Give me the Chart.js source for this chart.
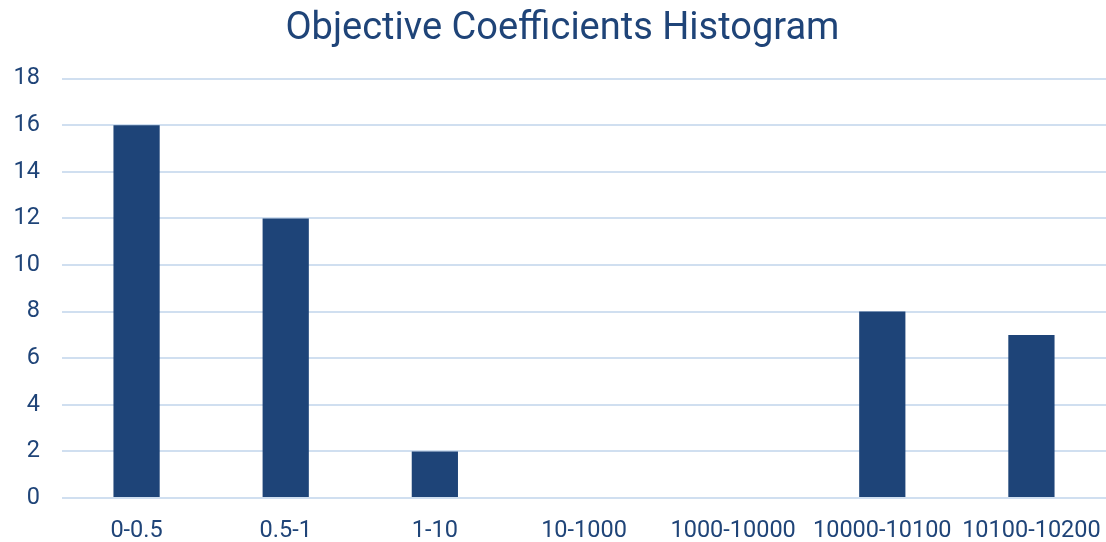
<!DOCTYPE html>
<html>
<head>
<meta charset="utf-8">
<script src="https://cdn.jsdelivr.net/npm/chart.js@4"></script>
<style>
  html, body { margin: 0; padding: 0; background: #fff; }
  #chart-wrapper { width: 1106px; height: 542px; }
</style>
</head>
<body>
<div id="chart-wrapper">
    <canvas id="histChart" width="1106" height="542"></canvas>
</div>
<script>
    var categories = ['0-0.5', '0.5-1', '1-10', '10-1000', '1000-10000', '10000-10100', '10100-10200'];
    var counts = [16, 12, 2, 0, 0, 8, 7];
    var yTicks = [0, 2, 4, 6, 8, 10, 12, 14, 16, 18];

    var textColor = '#1f4478';

    var chart = new Chart('histChart', {
        type: 'bar',
        data: {
            labels: categories,
            datasets: [{
                data: counts,
                backgroundColor: '#1e4478',
                borderWidth: 0,
                barPercentage: 0.31,
                categoryPercentage: 1
            }]
        },
        options: {
            responsive: false,
            animation: false,
            layout: { padding: { left: 0, right: 0, top: 0, bottom: 0 } },
            plugins: {
                legend: { display: false },
                tooltip: { enabled: false },
                title: {
                    display: true,
                    // leading spaces nudge the title a little right, like the original
                    text: '\u00a0\u00a0Objective Coefficients Histogram',
                    color: textColor,
                    font: { family: 'Roboto', size: 38, weight: 'normal' },
                    padding: { top: 7, bottom: 26 }
                }
            },
            scales: {
                x: {
                    grid: { display: false, drawTicks: false },
                    border: { display: false },
                    ticks: {
                        color: textColor,
                        font: { family: 'Roboto', size: 23.5 },
                        padding: 19,
                        maxRotation: 0,
                        autoSkip: false
                    },
                    afterFit: function (scale) {
                        scale.height = 44;
                        // labels fit inside their categories, no side padding needed
                        scale.paddingLeft = 0;
                        scale.paddingRight = 0;
                    }
                },
                y: {
                    min: yTicks[0],
                    max: yTicks[yTicks.length - 1],
                    grid: { color: '#d0dff0', lineWidth: 2, drawTicks: false },
                    border: { display: false },
                    ticks: {
                        stepSize: 2,
                        color: textColor,
                        font: { family: 'Roboto', size: 23.5 },
                        padding: 22
                    },
                    afterFit: function (scale) { scale.width = 62; }
                }
            }
        }
    });
</script>
</body>
</html>
